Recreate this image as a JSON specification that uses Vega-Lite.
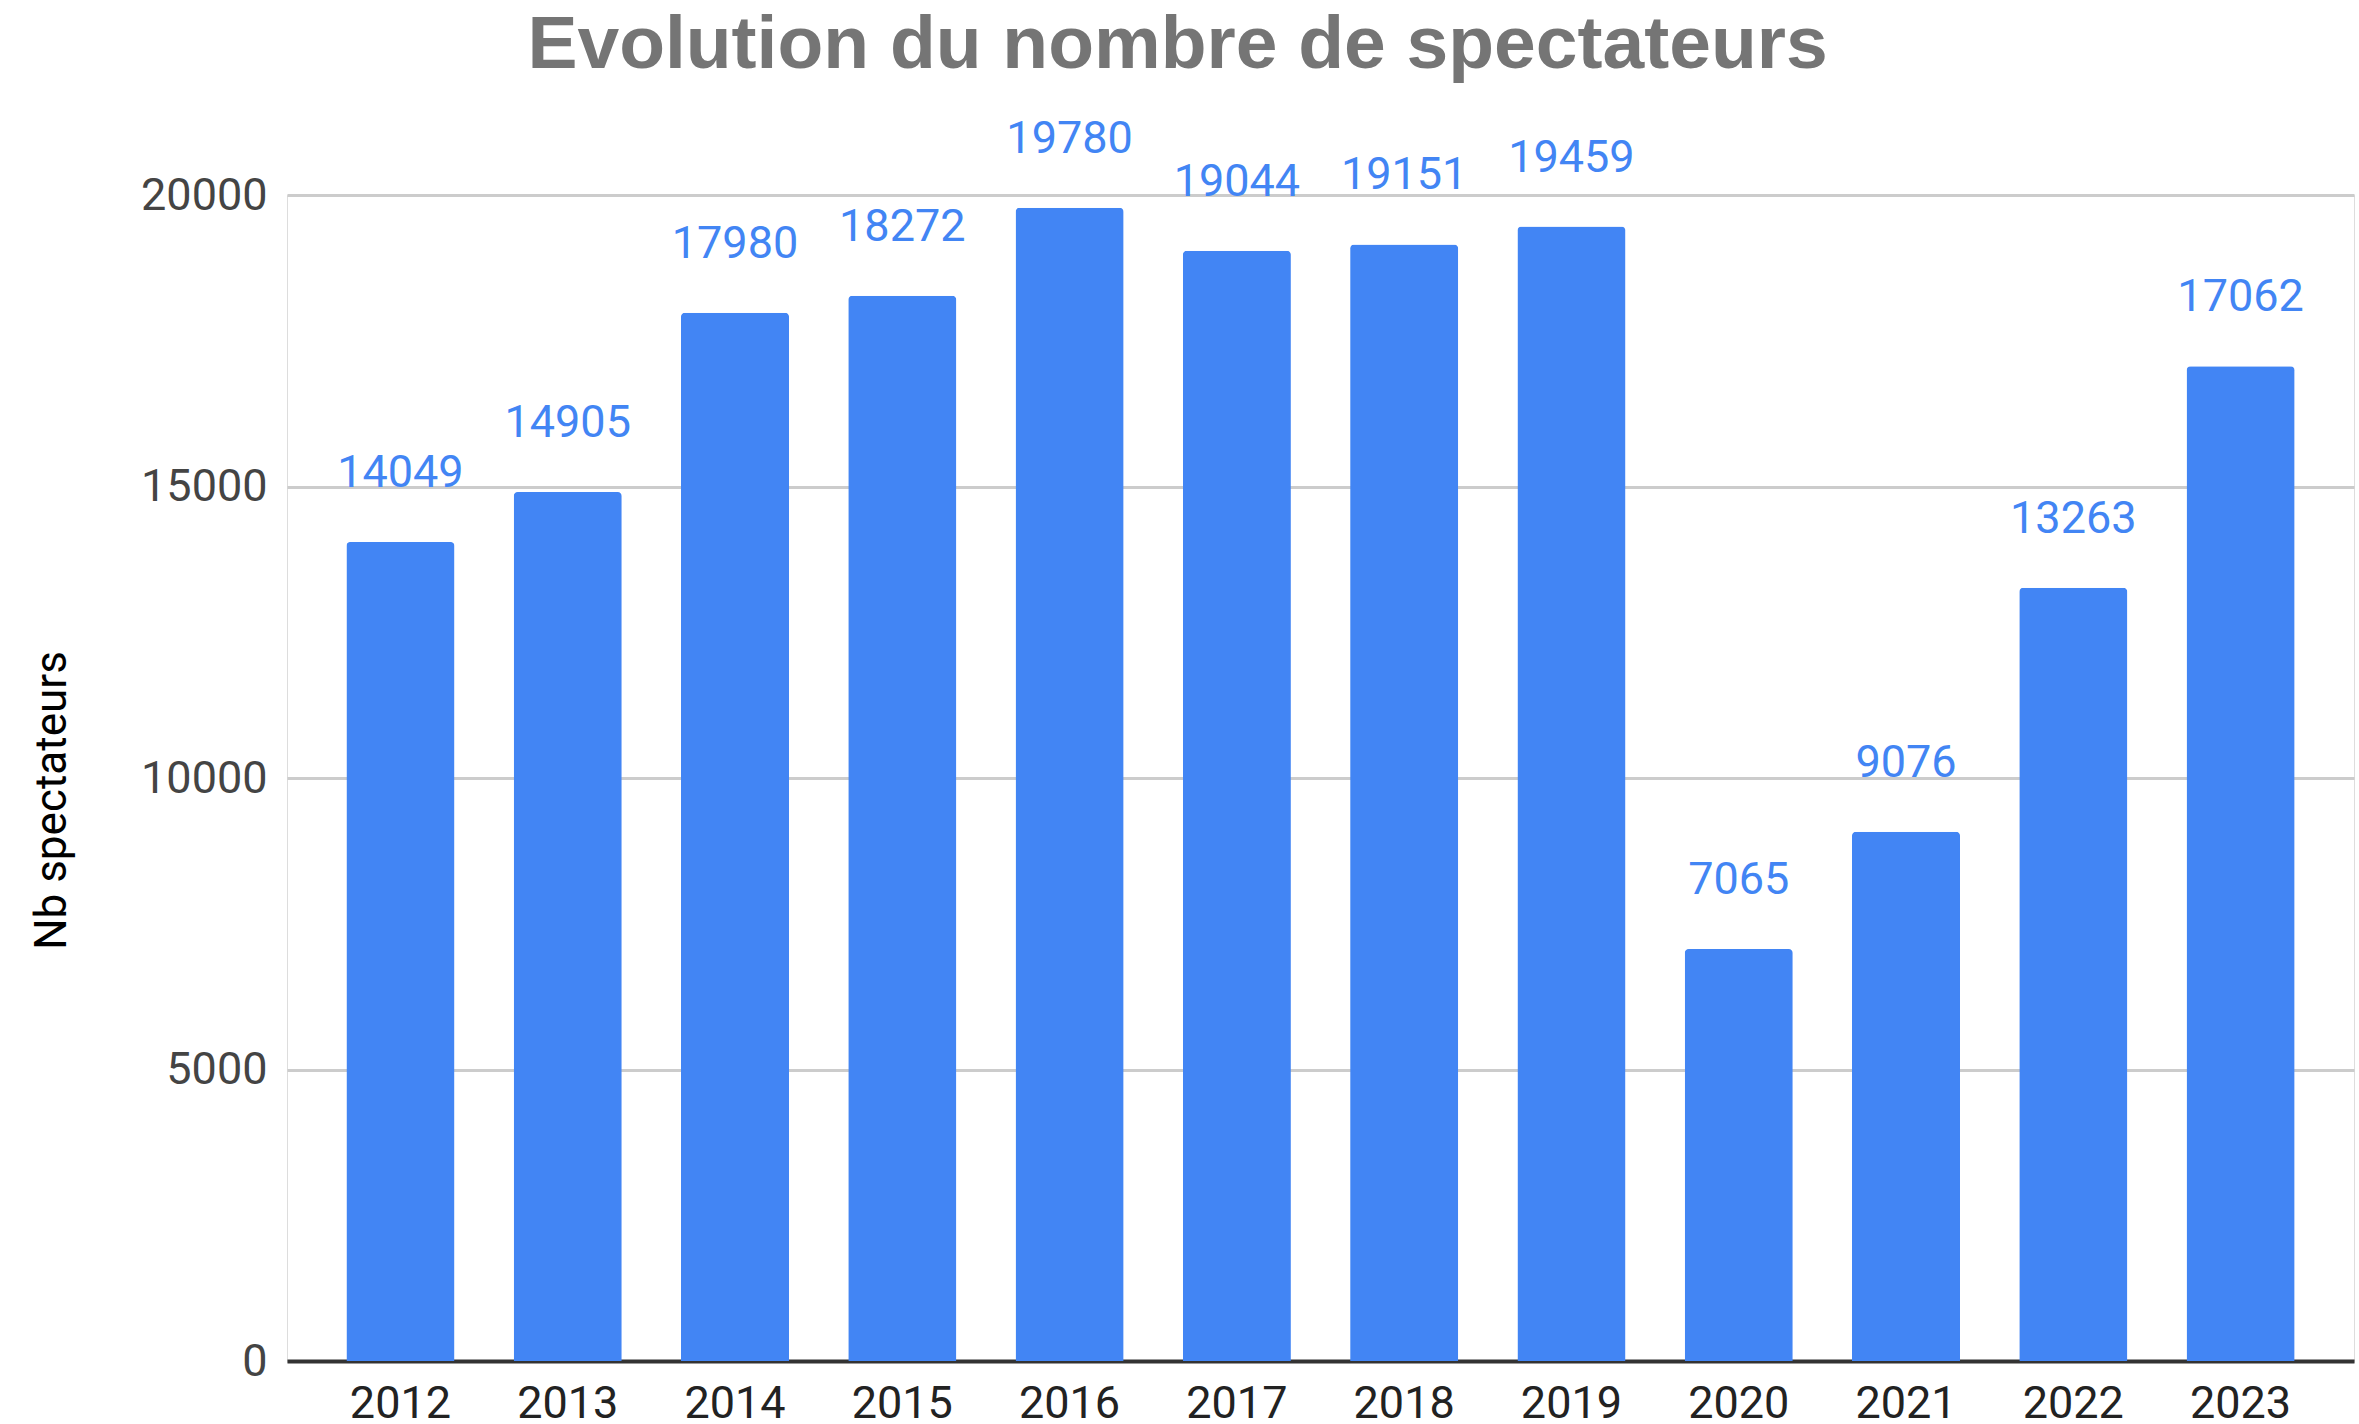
{
  "$schema": "https://vega.github.io/schema/vega-lite/v6.json",
  "autosize": {"type": "none"},
  "padding": {"left": 287, "top": 195, "right": 5, "bottom": 63},
  "width": 2067,
  "height": 1166,
  "background": "white",
  "title": {
    "text": "Evolution du nombre de spectateurs",
    "font": "Liberation Sans",
    "fontSize": 75,
    "fontWeight": "bold",
    "color": "#757575",
    "anchor": "middle",
    "offset": 33,
    "dx": -143
  },
  "data": {
    "values": [
      {"annee": "2012", "spectateurs": 14049},
      {"annee": "2013", "spectateurs": 14905},
      {"annee": "2014", "spectateurs": 17980},
      {"annee": "2015", "spectateurs": 18272},
      {"annee": "2016", "spectateurs": 19780},
      {"annee": "2017", "spectateurs": 19044},
      {"annee": "2018", "spectateurs": 19151},
      {"annee": "2019", "spectateurs": 19459},
      {"annee": "2020", "spectateurs": 7065},
      {"annee": "2021", "spectateurs": 9076},
      {"annee": "2022", "spectateurs": 13263},
      {"annee": "2023", "spectateurs": 17062}
    ]
  },
  "encoding": {
    "x": {
      "field": "annee",
      "type": "ordinal",
      "scale": {"paddingInner": 0.354, "paddingOuter": 0.355},
      "axis": {
        "title": null,
        "labelAngle": 0,
        "labelFont": "Roboto",
        "labelFontSize": 45,
        "labelColor": "#222222",
        "labelPadding": 20,
        "ticks": false,
        "domainColor": "#333333",
        "domainWidth": 4,
        "grid": false
      }
    },
    "y": {
      "field": "spectateurs",
      "type": "quantitative",
      "scale": {"domain": [0, 20000], "nice": false},
      "axis": {
        "title": "Nb spectateurs",
        "titleFont": "Roboto",
        "titleFontSize": 44,
        "titleFontWeight": "normal",
        "titleColor": "#000000",
        "titleAngle": 270,
        "titleAlign": "center",
        "titleBaseline": "alphabetic",
        "titleX": -222,
        "titleY": 605,
        "values": [0, 5000, 10000, 15000, 20000],
        "format": "d",
        "labelFont": "Roboto",
        "labelFontSize": 45,
        "labelColor": "#444444",
        "labelPadding": 20,
        "ticks": false,
        "domain": false,
        "grid": true,
        "gridColor": "#cccccc",
        "gridWidth": 3
      }
    }
  },
  "layer": [
    {
      "mark": {"type": "bar", "color": "#4285F4", "cornerRadiusTopLeft": 4, "cornerRadiusTopRight": 4}
    },
    {
      "mark": {"type": "text", "font": "Roboto", "fontSize": 45, "color": "#4285F4", "baseline": "alphabetic", "dy": -55},
      "encoding": {"text": {"field": "spectateurs", "type": "quantitative", "format": "d"}}
    }
  ]
}
